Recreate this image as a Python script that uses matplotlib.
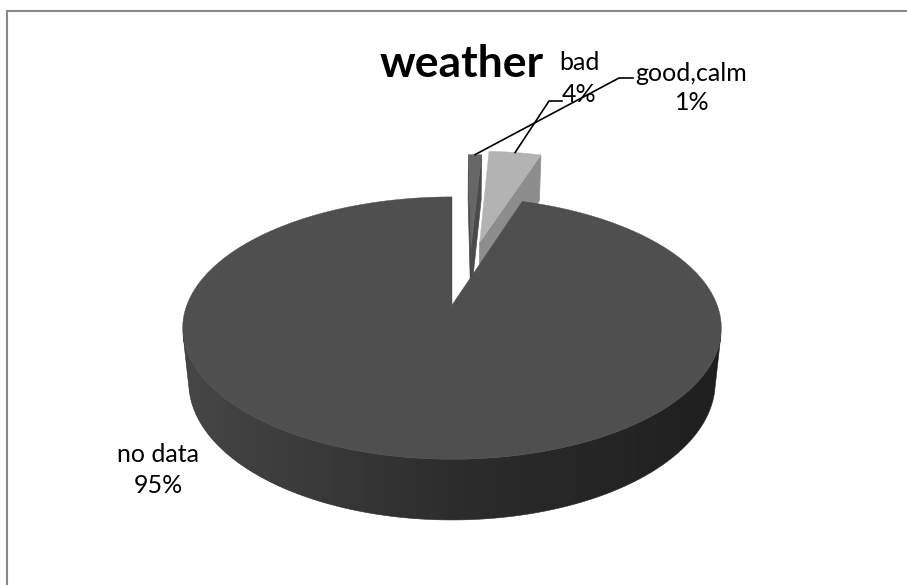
import numpy as np
import matplotlib
matplotlib.use("Agg")
import matplotlib.pyplot as plt
from matplotlib.patches import Polygon

# ---- data -------------------------------------------------------------
categories = ["good,calm", "bad", "no data"]
values = [1, 4, 95]
pct_labels = ["1%", "4%", "95%"]
title = "weather"

# ---- styling ------------------------------------------------------------
top_colors = ["#666666", "#b3b3b3", "#4f4f4f"]
side_colors = ["#4a4a4a", "#8d8d8d", None]          # radial faces
explode = [(0.50, 9.0), (0.55, 12.0), (0.0, 0.0)]   # (distance, direction in deg)
FONT = ["Lato", "DejaVu Sans"]

W, H_PX = 907, 585
CX, CY = 452.0, 305.0          # screen position of the pie centre
F, DIST = 1323.0, 4.99         # focal length (px) and camera distance (radii)
TILT = np.radians(28.65)
S, C = np.sin(TILT), np.cos(TILT)
DEPTH = 0.236                  # thickness of the pie in radii
CAM = np.array([0.0, -DIST * C, DIST * S])


def project(X, Y, Z):
    d = DIST + Y * C - Z * S
    xs = F * X / d
    ys = F * (Y * S + Z * C) / d
    return CX + xs, CY - ys


def depth_of(p):
    return DIST + p[1] * C - p[2] * S


def facing(p, n):
    return np.dot(n, CAM - np.asarray(p)) > 0


def wall_shade(nx):
    # lighter on the left, darker towards the right
    return np.where(nx < 0, 0.175 - 0.10 * nx, 0.175 - 0.055 * nx)


fig = plt.figure(figsize=(W / 100, H_PX / 100), dpi=100)
ax = fig.add_axes([0, 0, 1, 1])
ax.set_xlim(0, W)
ax.set_ylim(H_PX, 0)
ax.axis("off")

# chart frame
ax.plot([6, W], [10.5, 10.5], color="#888888", lw=1.5, solid_capstyle="butt")
ax.plot([6.5, 6.5], [10, H_PX], color="#888888", lw=1.5, solid_capstyle="butt")

total = float(sum(values))
bounds = np.concatenate([[0.0], np.cumsum(values) / total * 360.0])


def draw_slice(i, zorder):
    a0, a1 = np.radians(bounds[i]), np.radians(bounds[i + 1])
    dist, direc = explode[i]
    ox, oy = dist * np.sin(np.radians(direc)), dist * np.cos(np.radians(direc))
    n = max(4, int((bounds[i + 1] - bounds[i]) / 0.5) + 2)
    th = np.linspace(a0, a1, n)
    rim_top = [(ox + np.sin(t), oy + np.cos(t), 0.0) for t in th]
    rim_bot = [(ox + np.sin(t), oy + np.cos(t), -DEPTH) for t in th]
    apex_t = (ox, oy, 0.0)
    apex_b = (ox, oy, -DEPTH)

    # outer wall: the camera-facing run of the rim, filled with a smooth shade
    vis = []
    for k in range(n - 1):
        tm = 0.5 * (th[k] + th[k + 1])
        nrm = np.array([np.sin(tm), np.cos(tm), 0.0])
        mid = np.mean([rim_top[k], rim_top[k + 1], rim_bot[k], rim_bot[k + 1]], axis=0)
        if facing(mid, nrm):
            vis.append(k)
    if vis:
        k0, k1 = min(vis), max(vis) + 1
        outline = [project(*p) for p in rim_top[k0:k1 + 1]] + \
                  [project(*p) for p in rim_bot[k0:k1 + 1][::-1]]
        poly = Polygon(outline, closed=True, facecolor="none", edgecolor="none")
        ax.add_patch(poly)
        xs = np.array([q[0] for q in outline])
        ys = np.array([q[1] for q in outline])
        x0, x1 = xs.min() - 2, xs.max() + 2
        y0, y1 = ys.min() - 2, ys.max() + 2
        gx = np.linspace(x0, x1, 600)
        nx = np.clip((gx - CX) / 269.0, -1, 1)
        shade = wall_shade(nx)
        img = np.repeat(shade[None, :, None], 3, axis=2)
        im = ax.imshow(img, extent=(x0, x1, y1, y0), aspect="auto",
                       interpolation="bilinear", zorder=zorder)
        im.set_clip_path(poly)
        ax.add_patch(Polygon(outline, closed=True, facecolor="none",
                             edgecolor=(0.16, 0.16, 0.16), lw=0.4,
                             zorder=zorder + 0.1))

    # radial faces
    faces = []
    if side_colors[i] is not None:
        for t, nrm in ((a0, np.array([-np.cos(a0), np.sin(a0), 0.0])),
                       (a1, np.array([np.cos(a1), -np.sin(a1), 0.0]))):
            rt = (ox + np.sin(t), oy + np.cos(t), 0.0)
            rb = (ox + np.sin(t), oy + np.cos(t), -DEPTH)
            pts = [apex_t, rt, rb, apex_b]
            mid = np.mean(pts, axis=0)
            if facing(mid, nrm):
                faces.append((depth_of(mid), pts, side_colors[i]))
    faces.sort(key=lambda f: -f[0])
    for _, pts, col in faces:
        xy = [project(*p) for p in pts]
        ax.add_patch(Polygon(xy, closed=True, facecolor=col, edgecolor=col,
                             lw=0.5, zorder=zorder + 0.2))

    top = [project(*apex_t)] + [project(*p) for p in rim_top]
    ax.add_patch(Polygon(top, closed=True, facecolor=top_colors[i],
                         edgecolor=top_colors[i], lw=0.3, zorder=zorder + 0.5))

    tm = 0.5 * (a0 + a1)
    return project(ox + np.sin(tm), oy + np.cos(tm), 0.0)


# exploded small slices sit behind the large one
anchors = {}
anchors[1] = draw_slice(1, 2)
anchors[0] = draw_slice(0, 2)
anchors[2] = draw_slice(2, 4)

# title
ax.text(462, 77, title, ha="center", va="baseline", fontsize=32,
        fontweight="bold", family=FONT, color="#000000", zorder=10)

lab = dict(ha="center", va="baseline", fontsize=18, family=FONT,
           color="#000000", zorder=10)

# good,calm label with leader
ax.text(691, 81, categories[0], **lab)
ax.text(692, 110, pct_labels[0], **lab)
gx_, gy_ = anchors[0]
ax.plot([633, 619, gx_], [78, 78, gy_], color="black", lw=1.2, zorder=9)

# bad label with leader
ax.text(579, 70, categories[1], **lab)
ax.text(579, 102, pct_labels[1], **lab)
bx, by = anchors[1]
ax.plot([562, 549, bx], [101, 101, by], color="black", lw=1.2, zorder=9)

# no data label
ax.text(158, 462, categories[2], **lab)
ax.text(158, 493, pct_labels[2], **lab)

fig.savefig("out.png", dpi=100, facecolor="white")
